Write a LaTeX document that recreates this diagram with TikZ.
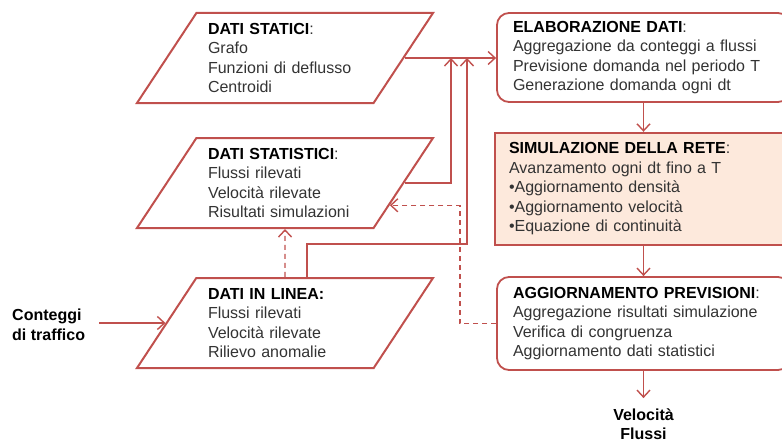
\documentclass[tikz,border=0pt]{standalone}
\usepackage{fontspec}
\setmainfont{Liberation Sans}
\usetikzlibrary{shapes.geometric,arrows.meta}
\definecolor{rosso}{HTML}{C0504D}
\definecolor{pesca}{HTML}{FDE9DC}
\definecolor{grigio}{HTML}{333333}
\newcommand{\titolo}[1]{{\color{black}\bfseries #1}}
\tikzset{
  testo/.style={text=grigio, font=\fontsize{16}{19.5}\selectfont},
  dati/.style={testo, draw=rosso, line width=2pt, trapezium,
    trapezium left angle=49.6, trapezium right angle=130.4,
    trapezium stretches body=true, minimum width=296pt, minimum height=90pt,
    text width=154pt, align=left, inner sep=0pt},
  fase/.style={testo, draw=rosso, line width=1.8pt, rounded corners=12pt,
    minimum width=293pt, minimum height=89pt, text width=261pt,
    align=left, inner sep=0pt},
  freccia/.style={draw=rosso, line width=1.4pt, -{Straight Barb[length=7pt,width=13pt]}},
  tratteggio/.style={freccia, dash pattern=on 5pt off 4pt},
}
\begin{document}
\begin{tikzpicture}[x=1pt,y=-1pt]
  \useasboundingbox (0,0) rectangle (782,444);
  % dati di ingresso
  \node[dati] (statici) at (285,58) {\titolo{DATI STATICI}:\\Grafo\\Funzioni di deflusso\\Centroidi};
  \node[dati] (statistici) at (285,183) {\titolo{DATI STATISTICI}:\\Flussi rilevati\\Velocità rilevate\\Risultati simulazioni};
  \node[dati] (linea) at (285,323) {\titolo{DATI IN LINEA:}\\Flussi rilevati\\Velocità rilevate\\Rilievo anomalie};
  \node[testo, text=black, font=\fontsize{16}{19.5}\selectfont\bfseries, align=left, anchor=west, inner sep=0pt] (conteggi) at (12,325) {Conteggi\\di traffico};
  % fasi di calcolo
  \node[fase] (elab) at (643.5,57.5) {\titolo{ELABORAZIONE DATI}:\\Aggregazione da conteggi a flussi\\Previsione domanda nel periodo T\\Generazione domanda ogni dt};
  \node[fase, fill=pesca, rounded corners=0pt, line width=2.4pt, minimum width=297pt, minimum height=112pt, text width=269pt] (sim) at (643.5,189) {\titolo{SIMULAZIONE DELLA RETE}:\\Avanzamento ogni dt fino a T\\\textbullet Aggiornamento densità\\\textbullet Aggiornamento velocità\\\textbullet Equazione di continuità};
  \node[fase, minimum height=93pt] (aggior) at (643.5,323.5) {\titolo{AGGIORNAMENTO PREVISIONI}:\\Aggregazione risultati simulazione\\Verifica di congruenza\\Aggiornamento dati statistici};
  \node[testo, text=black, font=\fontsize{16}{19.5}\selectfont\bfseries, align=center, inner sep=0pt] (uscita) at (643.5,424) {Velocità\\Flussi};
  \coordinate (jA) at (451,58);
  \coordinate (jB) at (467,58);
  % connettori
  \draw[freccia] (statici.east) -- (statici.east -| elab.west);
  \draw[freccia] (statistici.east) -| (jA);
  \draw[freccia] ([xshift=22pt]linea.north) -- ++(0,-33) -| (jB);
  \draw[tratteggio] (linea.north) -- (statistici.south);
  \draw[tratteggio] (aggior.west) -- ++(-36,0) |- (statistici.-12);
  \draw[freccia, shorten <=14pt] (conteggi.east |- linea.west) -- (linea.west);
  \draw[freccia] (elab.south) -- (sim.north);
  \draw[freccia] (sim.south) -- (aggior.north);
  \draw[freccia] (aggior.south) -- ([yshift=10pt]uscita.north);
\end{tikzpicture}
\end{document}
